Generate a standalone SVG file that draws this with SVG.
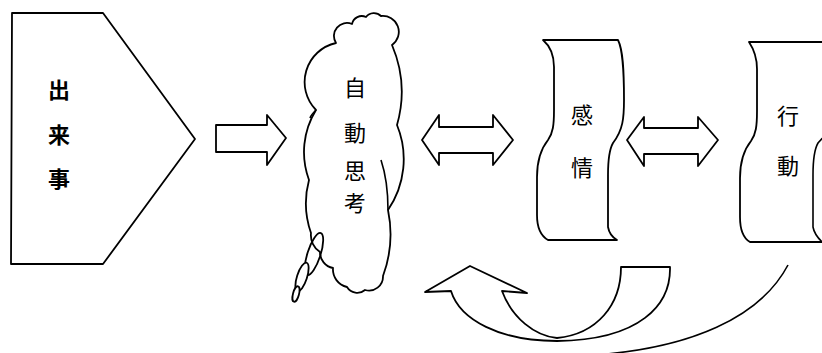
<svg xmlns="http://www.w3.org/2000/svg" width="822" height="353" viewBox="0 0 822 353">
<style>
.s{fill:#fff;stroke:#000;stroke-width:1.8;stroke-linejoin:round}
.l{fill:none;stroke:#000;stroke-width:1.6}
.t{font-family:"Noto Sans CJK JP","Noto Sans CJK SC",sans-serif;font-size:22px;fill:#000;text-anchor:middle;dominant-baseline:central}
.b{font-weight:bold}
</style>
<rect width="822" height="353" fill="#fff"/>
<g id="dekigoto">
<path class="s" d="M12,13 L103,13 L195,139 L103,264 L11,264 Z"/>
<text class="t b" x="59" y="88">出</text>
<text class="t b" x="59" y="133">来</text>
<text class="t b" x="59" y="177">事</text>
</g>
<g id="jidou-shikou">
<path class="s" d="M311,233 A90,90 0 0 1 309,180 A80,80 0 0 1 316,110 A40,40 0 0 1 336,43 A13,13 0 0 1 352,24 A10,10 0 0 1 366,17 A10,10 0 0 1 381,16 A16,16 0 0 1 392,45 A120,120 0 0 1 397,125 A90,90 0 0 1 388,210 A120,120 0 0 1 383,276 A14,14 0 0 1 365,290 A12,12 0 0 1 347,287 A18,18 0 0 1 333,268 A16,16 0 0 1 320,252 A20,20 0 0 1 311,233 Z"/>
<path class="l" d="M381,160 C386,175 388,195 388,210"/>
<path class="l" d="M316,110 C313,113 311,115 310,118"/>
<ellipse class="s" cx="314" cy="254" rx="6.5" ry="22" transform="rotate(18 314 254)" style="fill:none"/>
<ellipse class="s" cx="302" cy="277" rx="5" ry="15" transform="rotate(18 302 277)"/>
<ellipse class="s" cx="296" cy="294" rx="3" ry="8" transform="rotate(15 296 294)"/>
<text class="t" x="355" y="86">自</text>
<text class="t" x="355" y="131">動</text>
<text class="t" x="355" y="169">思</text>
<text class="t" x="355" y="201">考</text>
</g>
<g id="kanjou">
<path class="s" d="M543,40 L618,40 C623,50 624,70 624,100 C624,118 623,130 613,143 C609,150 608,160 608,175 L608,227 C609,233 612,237 617,240 L548,240 C541,236 537,228 537,215 L537,177 C537,163 540,150 548,140 C553,133 554,125 554,110 L554,67 C554,55 550,46 543,40 Z"/>
<text class="t" x="582" y="113">感</text>
<text class="t" x="582" y="166">情</text>
</g>
<g id="koudou">
<path class="s" d="M749,42 L830,42 L830,242 L750,242 C743,238 740,230 740,217 L740,178 C740,164 743,151 751,141 C756,134 757,126 757,111 L757,69 C757,57 753,48 749,42 Z"/>
<path class="l" d="M827,132 C824,138 820,140 818,143 C814,150 813,160 813,175 L813,227 C814,233 817,237 822,242"/>
<text class="t" x="788" y="114">行</text>
<text class="t" x="788" y="164">動</text>
</g>
<g id="connectors">
<path class="s" d="M216,125 L267,125 L267,115 L286,138 L267,165 L267,152 L216,152 Z"/>
<path class="s" d="M422,140 L439,115 L439,127 L493,127 L493,115 L513,140 L493,165 L493,153 L439,153 L439,165 Z"/>
<path class="s" d="M627,140 L644,117 L644,128 L698,128 L698,117 L718,140 L698,166 L698,154 L644,154 L644,166 Z"/>
<path class="s" d="M621,267 L670,267 C671,305 640,340 557,341 C500,341 460,320 451,291 L425,292 L470,266 L527,293 L502,291 C512,318 535,336 557,338 C597,334 621,305 621,267 Z"/>
<path class="l" d="M788,265 C760,318 690,348 595,355"/>
</g>
</svg>
